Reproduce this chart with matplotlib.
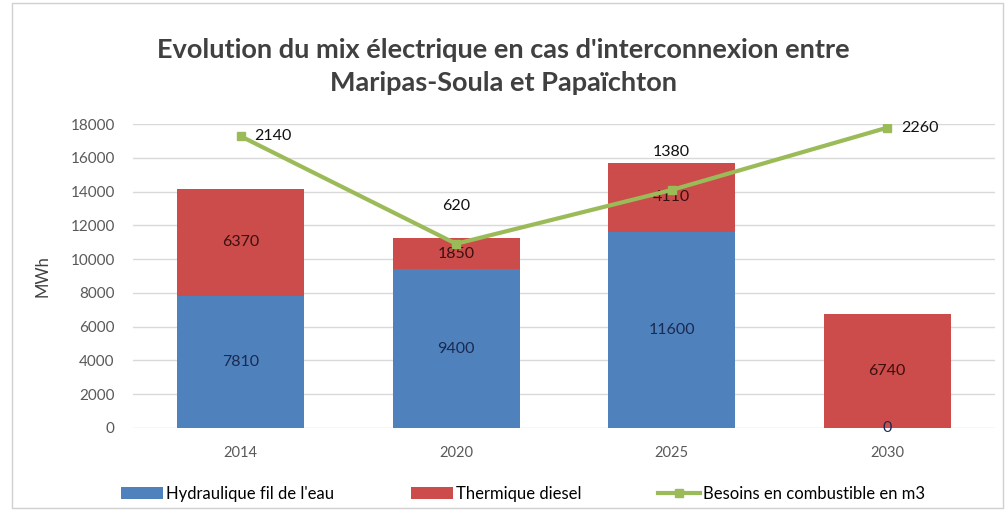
import numpy as np
import matplotlib.pyplot as plt
from matplotlib.patches import Rectangle

# --- Data ---
years = ["2014", "2020", "2025", "2030"]
hydro = [7810, 9400, 11600, 0]          # Hydraulique fil de l'eau (MWh)
thermal = [6370, 1850, 4110, 6740]      # Thermique diesel (MWh)
fuel = [2140, 620, 1380, 2260]          # Besoins en combustible (m3)

BLUE = "#4F81BD"
RED = "#CB4C4A"
GREEN = "#9BBB59"

plt.rcParams["font.family"] = ["Lato", "DejaVu Sans"]

fig = plt.figure(figsize=(10.06, 5.13), dpi=100)
ax = fig.add_axes([0.132, 0.166, 0.857, 0.592])

x = np.arange(len(years))
w = 0.59
b1 = ax.bar(x, hydro, w, color=BLUE, label="Hydraulique fil de l'eau", zorder=2)
b2 = ax.bar(x, thermal, w, bottom=hydro, color=RED, label="Thermique diesel", zorder=2)

# bar value labels
for i in range(len(years)):
    ax.text(x[i], hydro[i] / 2, str(hydro[i]), ha="center", va="center",
            fontsize=11.5, color="#1a2a50", zorder=4)
    ax.text(x[i], hydro[i] + thermal[i] / 2, str(thermal[i]), ha="center",
            va="center", fontsize=11.5, color="#3a1010", zorder=4)

ax.set_xlim(-0.5, len(years) - 0.5)
ax.set_ylim(0, 18000)
ax.set_yticks(np.arange(0, 18001, 2000))
ax.set_xticks(x)
ax.set_xticklabels(years)
ax.tick_params(axis="both", length=0, labelsize=10.5, colors="#595959")
ax.tick_params(axis="y", pad=13, labelsize=11)
ax.tick_params(axis="x", pad=13)
ax.grid(axis="y", color="#d9d9d9", linewidth=1, zorder=0)
for s in ax.spines.values():
    s.set_visible(False)
ax.set_ylabel("MWh", fontsize=12, color="#404040", labelpad=14)

# fuel needs on a hidden secondary axis
ax2 = ax.twinx()
ax2.set_ylim(-1980, 2310)
ln, = ax2.plot(x, fuel, color=GREEN, linewidth=3, marker="s", markersize=6,
               label="Besoins en combustible en m3", zorder=5)
ax2.set_yticks([])
for s in ax2.spines.values():
    s.set_visible(False)

offsets = [(10, 0, "left", "center"), (0, 22, "center", "bottom"),
           (0, 22, "center", "bottom"), (10, 0, "left", "center")]
for i, v in enumerate(fuel):
    dx, dy, ha, va = offsets[i]
    ax2.annotate(str(v), (x[i], v), xytext=(dx, dy), textcoords="offset points",
                 ha=ha, va=va, fontsize=11.5, color="#111111")

fig.suptitle("Evolution du mix électrique en cas d'interconnexion entre\nMaripas-Soula et Papaïchton",
             y=0.925, fontsize=19.5, fontweight="bold", color="#404040", linespacing=1.45)

fig.legend(handles=[b1, b2, ln], loc="lower center", bbox_to_anchor=(0.52, -0.008),
           ncol=3, frameon=False, fontsize=12, handlelength=2.5, columnspacing=4.6,
           handletextpad=0.2)

# light outer frame
fig.patches.append(Rectangle((0.012, 0.01), 0.985, 0.985, transform=fig.transFigure,
                             fill=False, edgecolor="#d0d0d0", linewidth=1))

fig.savefig("out.png", dpi=100)
